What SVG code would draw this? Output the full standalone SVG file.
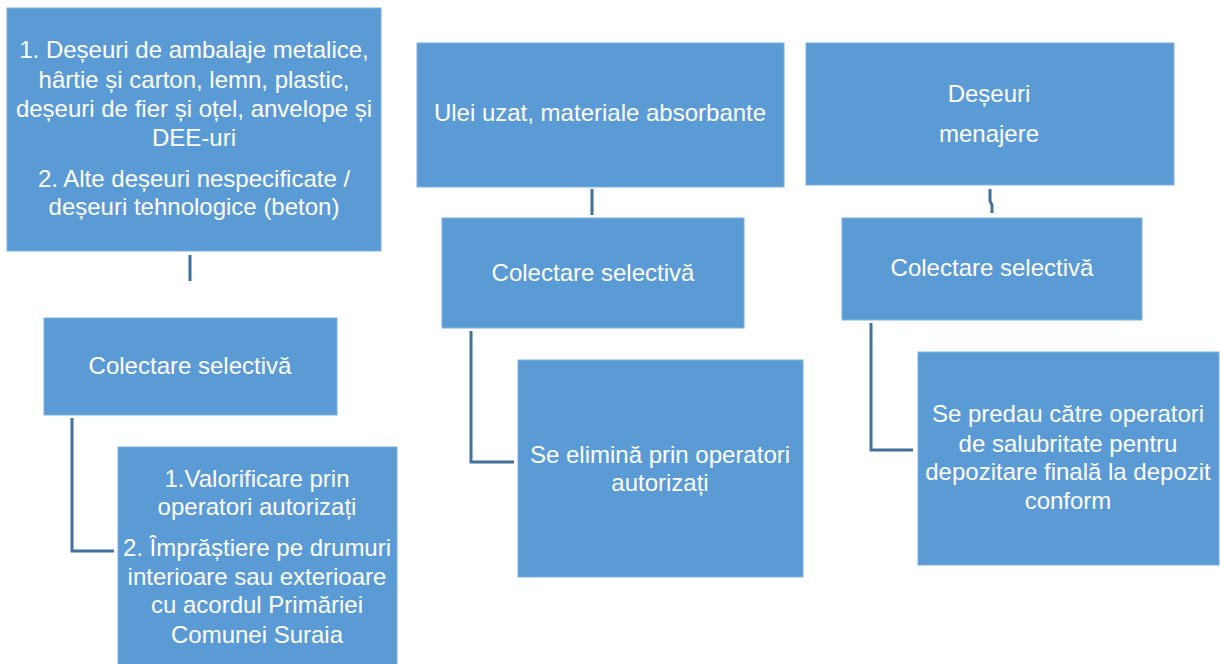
<svg xmlns="http://www.w3.org/2000/svg" width="1220" height="664" viewBox="0 0 1220 664">
<style>
.box{fill:#5B9BD5;stroke:#7FB0DE;stroke-width:1}
.t{font-family:"Liberation Sans",Arial,sans-serif;font-size:24px;fill:#FFFFFF;text-anchor:middle}
.c{fill:none;stroke:#41719C;stroke-width:3}
</style>
<rect width="1220" height="664" fill="#FFFFFF"/>
<g id="connectors">
<path class="c" d="M190 255V281"/>
<path class="c" d="M72 418V551H114"/>
<path class="c" d="M592 189V215"/>
<path class="c" d="M471 331V462H514"/>
<path class="c" d="M990 189V201L992 205V213"/>
<path class="c" d="M871 323V450H913"/>
</g>
<g id="n1">
<rect class="box" x="7" y="8" width="374" height="243"/>
<text class="t"><tspan x="194" y="58">1. Deșeuri de ambalaje metalice,</tspan><tspan x="194" y="88">hârtie și carton, lemn, plastic,</tspan><tspan x="194" y="117">deșeuri de fier și oțel, anvelope și</tspan><tspan x="194" y="146">DEE-uri</tspan><tspan x="194" y="187">2. Alte deșeuri nespecificate /</tspan><tspan x="194" y="215">deșeuri tehnologice (beton)</tspan></text>
</g>
<g id="n2">
<rect class="box" x="44" y="318" width="293" height="97"/>
<text class="t" x="190" y="374">Colectare selectivă</text>
</g>
<g id="n3">
<rect class="box" x="118" y="447" width="279" height="220"/>
<text class="t"><tspan x="257" y="487">1.Valorificare prin</tspan><tspan x="257" y="515">operatori autorizați</tspan><tspan x="257" y="556">2. Împrăștiere pe drumuri</tspan><tspan x="257" y="585">interioare sau exterioare</tspan><tspan x="257" y="613">cu acordul Primăriei</tspan><tspan x="257" y="643">Comunei Suraia</tspan></text>
</g>
<g id="n4">
<rect class="box" x="417" y="43" width="367" height="144"/>
<text class="t" x="600" y="121">Ulei uzat, materiale absorbante</text>
</g>
<g id="n5">
<rect class="box" x="442" y="218" width="302" height="110"/>
<text class="t" x="593" y="281">Colectare selectivă</text>
</g>
<g id="n6">
<rect class="box" x="518" y="360" width="285" height="217"/>
<text class="t"><tspan x="660" y="463">Se elimină prin operatori</tspan><tspan x="660" y="491">autorizați</tspan></text>
</g>
<g id="n7">
<rect class="box" x="806" y="43" width="368" height="142"/>
<text class="t"><tspan x="989" y="102">Deșeuri</tspan><tspan x="989" y="142">menajere</tspan></text>
</g>
<g id="n8">
<rect class="box" x="842" y="218" width="300" height="102"/>
<text class="t" x="992" y="276">Colectare selectivă</text>
</g>
<g id="n9">
<rect class="box" x="918" y="352" width="301" height="213"/>
<text class="t"><tspan x="1068" y="422">Se predau către operatori</tspan><tspan x="1068" y="452">de salubritate pentru</tspan><tspan x="1068" y="480">depozitare finală la depozit</tspan><tspan x="1068" y="509">conform</tspan></text>
</g>
</svg>
